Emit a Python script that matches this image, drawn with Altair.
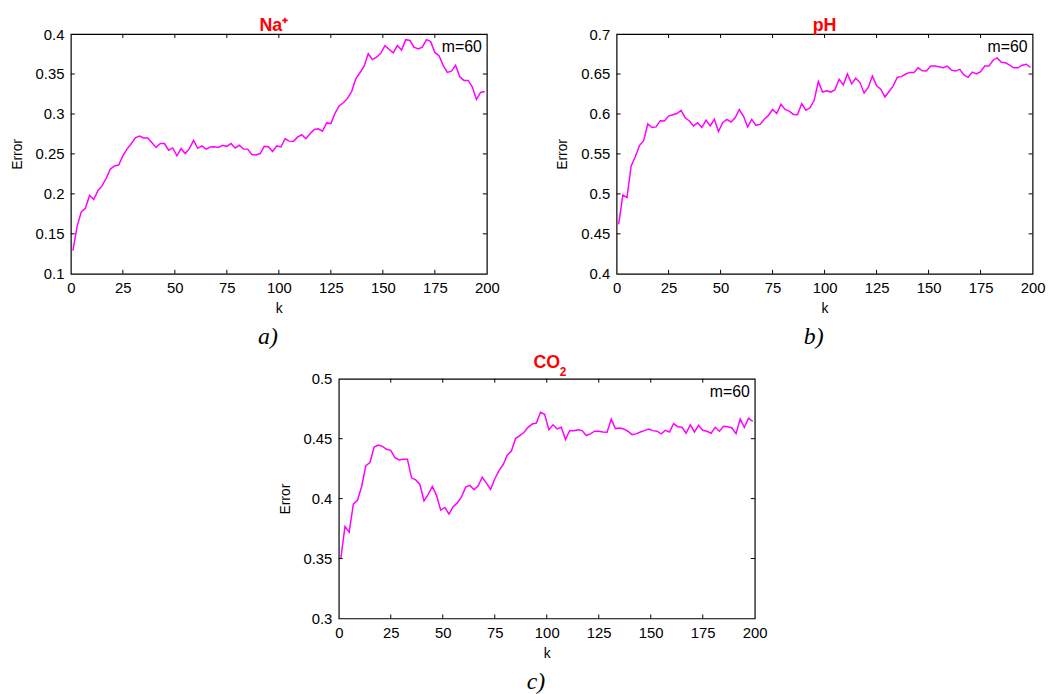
import altair as alt
import pandas as pd

# k positions of the samples
K = list(range(1, 200, 2))

NA = [0.129, 0.159, 0.1775, 0.182, 0.198, 0.193, 0.204, 0.21, 0.2195, 0.231,
      0.235, 0.236, 0.2476, 0.256, 0.2628, 0.270, 0.2723, 0.270, 0.270, 0.264,
      0.258, 0.263, 0.263, 0.2546, 0.2575, 0.2476, 0.2566, 0.2505, 0.2566, 0.267,
      0.257, 0.26, 0.256, 0.2587, 0.259, 0.258, 0.2608, 0.2595, 0.263, 0.2575,
      0.2608, 0.256, 0.256, 0.2492, 0.2488, 0.2505, 0.2595, 0.259, 0.253, 0.26,
      0.2587, 0.269, 0.266, 0.2657, 0.271, 0.274, 0.269, 0.2752, 0.2805, 0.2814,
      0.2785, 0.2888, 0.288, 0.3008, 0.31, 0.314, 0.3195, 0.328, 0.344, 0.3516,
      0.3598, 0.3754, 0.368, 0.371, 0.376, 0.3856, 0.381, 0.3766, 0.3856, 0.380,
      0.393, 0.392, 0.3836, 0.3815, 0.3836, 0.393, 0.3905, 0.377, 0.373, 0.3608,
      0.352, 0.3536, 0.3608, 0.3465, 0.342, 0.342, 0.334, 0.3182, 0.327, 0.328]

PH = [0.4617, 0.4987, 0.4954, 0.5349, 0.5464, 0.5604, 0.5665, 0.5875, 0.583, 0.5838,
      0.5916, 0.5912, 0.5974, 0.599, 0.6006, 0.6044, 0.5953, 0.5912, 0.585, 0.5891,
      0.583, 0.5924, 0.585, 0.5933, 0.578, 0.5891, 0.5933, 0.59, 0.5953, 0.6056,
      0.5974, 0.5838, 0.5933, 0.5858, 0.587, 0.5933, 0.5982, 0.6056, 0.6006, 0.6122,
      0.6056, 0.6036, 0.5994, 0.599, 0.613, 0.6048, 0.6077, 0.6171, 0.6405, 0.6274,
      0.629, 0.6274, 0.6303, 0.6434, 0.6364, 0.65, 0.6377, 0.6447, 0.6393, 0.6262,
      0.6332, 0.6476, 0.6352, 0.6311, 0.6212, 0.6282, 0.6352, 0.6459, 0.6467, 0.65,
      0.652, 0.652, 0.6578, 0.6541, 0.6537, 0.6599, 0.6599, 0.659, 0.6578, 0.6599,
      0.6549, 0.6537, 0.6558, 0.6488, 0.6459, 0.6524, 0.65, 0.6529, 0.6599, 0.6599,
      0.6673, 0.6702, 0.6648, 0.664, 0.6611, 0.6578, 0.6578, 0.6611, 0.6623, 0.6582]

CO2 = [0.35, 0.3767, 0.372, 0.3953, 0.3986, 0.4101, 0.4274, 0.4301, 0.443, 0.4447,
       0.4436, 0.4411, 0.4403, 0.4342, 0.4323, 0.4329, 0.4329, 0.4173, 0.4156, 0.4118,
       0.3981, 0.4036, 0.4101, 0.4027, 0.3904, 0.3926, 0.3871, 0.3932, 0.3964, 0.4014,
       0.4096, 0.411, 0.4074, 0.4107, 0.4178, 0.4129, 0.4077, 0.4164, 0.4233, 0.4282,
       0.4362, 0.4397, 0.4501, 0.4526, 0.4551, 0.4595, 0.4622, 0.463, 0.472, 0.4704,
       0.4575, 0.4616, 0.4581, 0.4595, 0.4493, 0.4567, 0.4567, 0.4575, 0.4567, 0.4526,
       0.454, 0.4562, 0.4562, 0.4556, 0.4553, 0.4663, 0.4584, 0.4589, 0.4581, 0.4562,
       0.4534, 0.454, 0.4556, 0.4567, 0.4581, 0.4567, 0.4562, 0.454, 0.457, 0.4556,
       0.4625, 0.46, 0.4595, 0.4545, 0.4616, 0.4556, 0.4611, 0.457, 0.4562, 0.4545,
       0.4595, 0.4562, 0.4603, 0.46, 0.4589, 0.4542, 0.4663, 0.4595, 0.4671, 0.4644]

X_TICKS = [0, 25, 50, 75, 100, 125, 150, 175, 200]
NA_TICKS = [0.1, 0.15, 0.2, 0.25, 0.3, 0.35, 0.4]
PH_TICKS = [0.4, 0.45, 0.5, 0.55, 0.6, 0.65, 0.7]
CO2_TICKS = [0.3, 0.35, 0.4, 0.45, 0.5]

W, H = 420, 242
TL = 4
SANS = "Liberation Sans"


def panel(vals, yticks, title, tag, toffset, tdx=0, sub=None, pad_right=0):
    df = pd.DataFrame({"k": K, "err": vals})
    xenc = alt.X("k:Q", scale=alt.Scale(domain=[0, 200], nice=False),
                 axis=alt.Axis(values=X_TICKS, title="k", format="d", labelFlush=False))
    yenc = alt.Y("err:Q", scale=alt.Scale(domain=[yticks[0], yticks[-1]], nice=False, zero=False),
                 axis=alt.Axis(values=yticks, format="~g", title="Error"))
    line = alt.Chart(df).mark_line(color="#ff00ff", strokeWidth=1.5).encode(x=xenc, y=yenc)
    xt = pd.DataFrame({"k": X_TICKS[1:-1]})
    yt = pd.DataFrame({"err": yticks[1:-1]})
    bottom = alt.Chart(xt).mark_rule(color="black").encode(x=xenc, y=alt.value(H), y2=alt.value(H - TL))
    top = alt.Chart(xt).mark_rule(color="black").encode(x=xenc, y=alt.value(0), y2=alt.value(TL))
    left = alt.Chart(yt).mark_rule(color="black").encode(y=yenc, x=alt.value(0), x2=alt.value(TL))
    right = alt.Chart(yt).mark_rule(color="black").encode(y=yenc, x=alt.value(W - TL), x2=alt.value(W))
    m = alt.Chart(pd.DataFrame({"t": ["m=60"]})).mark_text(
        align="right", baseline="alphabetic", fontSize=16, font=SANS, color="black"
    ).encode(x=alt.value(W - 5), y=alt.value(18), text="t:N")
    tg = alt.Chart(pd.DataFrame({"t": [tag]})).mark_text(
        font="Liberation Serif", fontStyle="italic", fontSize=24, baseline="alphabetic",
        align="center", color="black"
    ).encode(x=alt.value(W / 2 - 11), y=alt.value(H + 71), text="t:N")
    layers = [line, bottom, top, left, right, m, tg]
    if sub:
        layers.append(alt.Chart(pd.DataFrame({"t": [sub]})).mark_text(
            font=SANS, fontWeight="bold", fontSize=12, color="red", align="left", baseline="alphabetic"
        ).encode(x=alt.value(W / 2 + 13), y=alt.value(-3), text="t:N"))
    if pad_right:
        # invisible rule that only widens the panel's bounds (used to centre the bottom panel)
        layers.append(alt.Chart(pd.DataFrame({"t": [0]})).mark_rule(color="transparent").encode(
            x=alt.value(W + pad_right), y=alt.value(0), y2=alt.value(1)))
    return alt.layer(*layers).properties(
        width=W, height=H,
        title=alt.TitleParams(title, color="red", fontSize=18, fontWeight="bold",
                              font=SANS, offset=toffset, anchor="middle", dx=tdx),
    )


a = panel(NA, NA_TICKS, "Na⁺", "a)", -7.5, tdx=-5)
b = panel(PH, PH_TICKS, "pH", "b)", -7.5)
c = panel(CO2, CO2_TICKS, "CO", "c)", -6.2, sub="2", pad_right=22)

chart = alt.vconcat(
    alt.hconcat(a, b, spacing=55),
    c,
    spacing=3,
    center=True,
).configure(
    padding={"left": 1, "top": 4, "right": 0, "bottom": 0}, background="white", font=SANS
).configure_view(
    stroke="black", strokeWidth=1.2
).configure_axis(
    domain=False, ticks=False, tickSize=0, grid=False,
    labelFont=SANS, labelFontSize=15, labelColor="black",
    titleFont=SANS, titleFontSize=14, titleFontWeight="normal", titleColor="black",
).configure_axisX(
    labelPadding=7, titlePadding=6
).configure_axisY(
    labelPadding=7, titlePadding=11
)

chart.save("out.html", embed_options={"renderer": "svg", "actions": False})
